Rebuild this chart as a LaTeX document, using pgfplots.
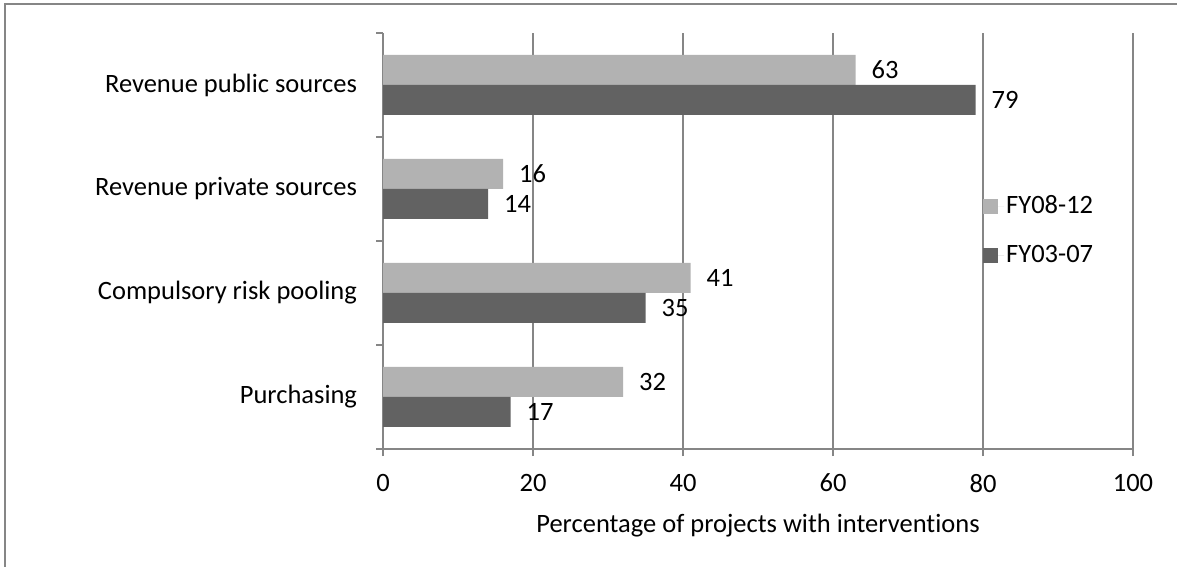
\documentclass[border=0pt]{standalone}
\usepackage{fontspec}
\setmainfont[Ligatures=NoCommon]{Carlito}
\usepackage{pgfplots}
\pgfplotsset{compat=1.18}
\definecolor{lightbar}{HTML}{B2B2B2}
\definecolor{darkbar}{HTML}{626262}
\definecolor{axgray}{HTML}{868686}
\newcommand{\cf}{\fontsize{26.5}{31}\selectfont}
\begin{document}
\cf
\begin{tikzpicture}
\useasboundingbox (0pt,0pt) rectangle (1177pt,567pt);
\draw[axgray, line width=1.5pt] (5pt,0pt) -- (5pt,563pt) -- (1177pt,563pt);
\begin{axis}[
  at={(383pt,118pt)}, anchor=south west,
  scale only axis, width=750pt, height=416pt,
  xbar, bar width=30pt,
  xmin=0, xmax=100, ymin=-0.5, ymax=3.5,
  axis lines*=left,
  axis line style={axgray, line width=1.2pt, -},
  xtick={0,20,40,60,80,100},
  ytick={-0.5,0.5,1.5,2.5,3.5},
  yticklabels={},
  extra y ticks={0,1,2,3},
  extra y tick labels={Purchasing, Compulsory risk pooling, Revenue private sources, Revenue public sources},
  extra y tick style={tick style={draw=none}},
  major tick length=7pt,
  tick style={axgray, line width=1.2pt},
  tick align=outside,
  xmajorgrids,
  major grid style={axgray, line width=1.2pt},
  /pgf/number format/assume math mode=true,
  tick label style={font=\cf},
  xticklabel style={yshift=-9pt},
  yticklabel style={xshift=-10pt},
  xlabel={Percentage of projects with interventions},
  xlabel style={font=\cf, yshift=-4pt},
  nodes near coords,
  every node near coord/.append style={font=\cf, anchor=west, inner sep=0pt, xshift=16pt, black},
  legend style={at={(axis description cs:0.8,0.524)}, anchor=west, draw=none, fill=none, inner sep=0pt, row sep=23pt, font=\cf, cells={anchor=west}},
  legend image code/.code={\fill[#1] (0pt,-7.5pt) rectangle (15pt,7.5pt); \path (0pt,0pt) -- (21pt,0pt);},
]
\addplot[fill=lightbar, draw=none, bar shift=15pt] coordinates {(32,0) (41,1) (16,2) (63,3)};
\addplot[fill=darkbar, draw=none, bar shift=-15pt] coordinates {(17,0) (35,1) (14,2) (79,3)};
\legend{FY08-12, FY03-07}
\end{axis}
\end{tikzpicture}
\end{document}
